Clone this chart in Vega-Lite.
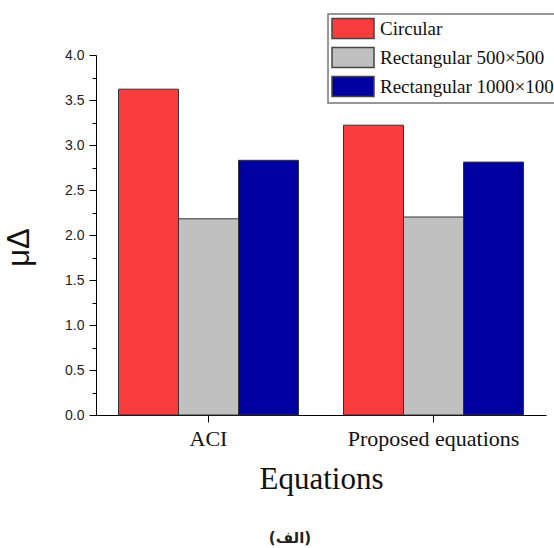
{
  "$schema": "https://vega.github.io/schema/vega-lite/v6.json",
  "width": 450,
  "height": 360,
  "autosize": {"type": "none"},
  "padding": {"left": 96, "top": 55, "right": 8, "bottom": 133},
  "background": "white",
  "title": {
    "text": "(الف)",
    "orient": "bottom",
    "anchor": "middle",
    "dx": -31,
    "offset": 37,
    "font": "DejaVu Sans",
    "fontSize": 15,
    "fontWeight": "bold",
    "color": "#222"
  },
  "data": {
    "values": [
      {"eq": "ACI", "type": "Circular", "value": 3.62},
      {"eq": "ACI", "type": "Rectangular 500×500", "value": 2.18},
      {"eq": "ACI", "type": "Rectangular 1000×1000", "value": 2.83},
      {"eq": "Proposed equations", "type": "Circular", "value": 3.22},
      {"eq": "Proposed equations", "type": "Rectangular 500×500", "value": 2.2},
      {"eq": "Proposed equations", "type": "Rectangular 1000×1000", "value": 2.81}
    ]
  },
  "mark": {"type": "bar", "stroke": "#333", "strokeWidth": 1},
  "encoding": {
    "x": {
      "field": "eq",
      "type": "nominal",
      "sort": ["ACI", "Proposed equations"],
      "scale": {"paddingInner": 0.2, "paddingOuter": 0.1},
      "axis": {
        "labelAngle": 0,
        "labelFont": "Liberation Serif",
        "labelFontSize": 22,
        "labelColor": "#111",
        "labelPadding": 6,
        "tickSize": 7,
        "tickColor": "#000",
        "domainColor": "#000",
        "title": "Equations",
        "titleFont": "Liberation Serif",
        "titleFontSize": 31,
        "titleFontWeight": "normal",
        "titleColor": "#111",
        "titlePadding": 15
      }
    },
    "xOffset": {
      "field": "type",
      "type": "nominal",
      "sort": ["Circular", "Rectangular 500×500", "Rectangular 1000×1000"],
      "scale": {"paddingInner": 0, "paddingOuter": 0}
    },
    "y": {
      "field": "value",
      "type": "quantitative",
      "scale": {"domain": [0, 4], "nice": false},
      "axis": {
        "values": [0, 0.25, 0.5, 0.75, 1, 1.25, 1.5, 1.75, 2, 2.25, 2.5, 2.75, 3, 3.25, 3.5, 3.75, 4],
        "labelExpr": "datum.value % 0.5 === 0 ? format(datum.value, '.1f') : ''",
        "tickSize": {"condition": {"test": "datum.value % 0.5 === 0", "value": 7}, "value": 4},
        "grid": false,
        "labelFont": "Liberation Sans",
        "labelFontSize": 14,
        "labelColor": "#222",
        "labelPadding": 5,
        "tickColor": "#000",
        "domainColor": "#000",
        "title": "μΔ",
        "titleFont": "Liberation Sans",
        "titleFontSize": 31,
        "titleFontWeight": "normal",
        "titleColor": "#111",
        "titleX": -61,
        "titleY": 192
      }
    },
    "color": {
      "field": "type",
      "type": "nominal",
      "sort": ["Circular", "Rectangular 500×500", "Rectangular 1000×1000"],
      "scale": {
        "domain": ["Circular", "Rectangular 500×500", "Rectangular 1000×1000"],
        "range": ["#FB3C3F", "#C0C0C0", "#0000A0"]
      },
      "legend": {
        "title": null,
        "orient": "none",
        "legendX": 232,
        "legendY": -41,
        "symbolType": "M-1,-0.95H3V0.95H-1Z",
        "symbolSize": 441,
        "symbolStrokeColor": "#444",
        "symbolStrokeWidth": 1.5,
        "symbolOpacity": 1,
        "labelFont": "Liberation Serif",
        "labelFontSize": 19,
        "labelColor": "#111",
        "labelOffset": 26,
        "labelLimit": 400,
        "rowPadding": 2,
        "padding": 3,
        "strokeColor": "#777",
        "fillColor": "white",
        "encode": {"legend": {"update": {"strokeWidth": {"value": 1.5}}}}
      }
    }
  },
  "config": {"view": {"stroke": null}}
}
